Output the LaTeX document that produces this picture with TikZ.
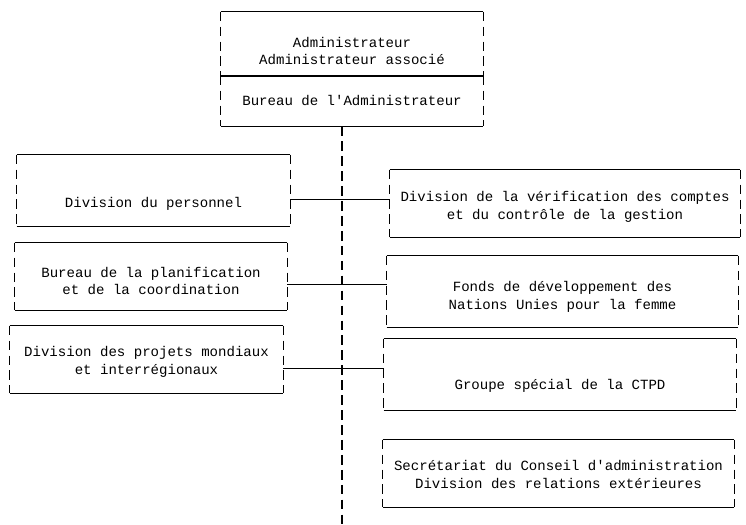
\documentclass[tikz,border=0pt]{standalone}
\usepackage{fontspec}
\setmonofont{Liberation Mono}
\usepackage{tikz}

\begin{document}
\begin{tikzpicture}%
    [x=0.02cm, y=-0.02cm,
    frame/.style={inner sep=0pt},
    txt/.style={inner sep=0pt, align=center, font=\ttfamily\fontsize{8}{10.2}\selectfont},
    rule/.style={line width=0.6pt},
    side/.style={line width=0.6pt, dash pattern=on 5.5pt off 3pt},
    link/.style={line width=0.5pt}]

    \useasboundingbox (0,0) rectangle (746,524);

    % cadres (centre, largeur, hauteur)
    \node [frame, minimum width=262*0.02cm, minimum height=64*0.02cm] (head)   at (352, 44) {};
    \node [frame, minimum width=262*0.02cm, minimum height=50*0.02cm] (bureau) at (352, 101) {};
    \node [frame, minimum width=273*0.02cm, minimum height=71*0.02cm] (pers)   at (153.5, 190.5) {};
    \node [frame, minimum width=272*0.02cm, minimum height=67*0.02cm] (plan)   at (151, 276.5) {};
    \node [frame, minimum width=273*0.02cm, minimum height=67*0.02cm] (proj)   at (146.5, 359.5) {};
    \node [frame, minimum width=350*0.02cm, minimum height=67*0.02cm] (verif)  at (565, 203.5) {};
    \node [frame, minimum width=351*0.02cm, minimum height=71*0.02cm] (fonds)  at (562.5, 291.5) {};
    \node [frame, minimum width=352*0.02cm, minimum height=71*0.02cm] (ctpd)   at (560, 374.5) {};
    \node [frame, minimum width=351*0.02cm, minimum height=67*0.02cm] (secr)   at (558.5, 473.5) {};

    % textes
    \node [txt] (head-t)   at (352, 51)    {Administrateur\\Administrateur associ\'e};
    \node [txt] (bureau-t) at (352, 100)   {Bureau de l'Administrateur};
    \node [txt] (pers-t)   at (153.5, 204) {Division du personnel};
    \node [txt] (plan-t)   at (151, 281)   {Bureau de la planification\\et de la coordination};
    \node [txt] (proj-t)   at (146.5, 362) {Division des projets mondiaux\\et interr\'egionaux};
    \node [txt] (verif-t)  at (565, 207)   {Division de la v\'erification des comptes\\et du contr\^ole de la gestion};
    \node [txt] (fonds-t)  at (562.5, 297) {Fonds de d\'eveloppement des\\Nations Unies pour la femme};
    \node [txt] (ctpd-t)   at (560, 386)   {Groupe sp\'ecial de la CTPD};
    \node [txt] (secr-t)   at (558.5, 474.5) {Secr\'etariat du Conseil d'administration\\Division des relations ext\'erieures};

    % traits pleins en haut et en bas, pointilles sur les cotes
    \foreach \n in {head, bureau, pers, plan, proj, verif, fonds, ctpd, secr} {
        \draw [rule] (\n.north west) -- (\n.north east);
        \draw [rule] (\n.south west) -- (\n.south east);
        \draw [side] (\n.north west) -- (\n.south west);
        \draw [side] (\n.north east) -- (\n.south east);
    }

    % axe vertical et liaisons
    \coordinate (j1) at (342, 199);
    \coordinate (j2) at (342, 284);
    \coordinate (j3) at (342, 368);
    \coordinate (foot) at (342, 524);
    \draw [side] (bureau.south -| foot) -- (foot);

    \draw [link] (pers.east |- j1) -- (verif.west |- j1);
    \draw [link] (plan.east |- j2) -- (fonds.west |- j2);
    \draw [link] (proj.east |- j3) -- (ctpd.west |- j3);
\end{tikzpicture}
\end{document}
